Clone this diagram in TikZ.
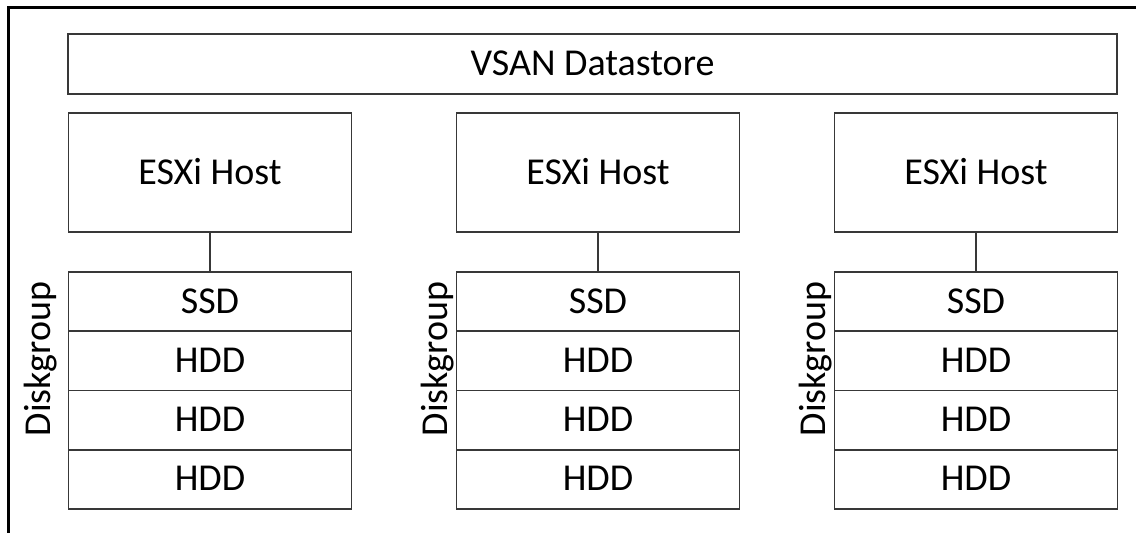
\documentclass[tikz,border=0pt]{standalone}
\usepackage{fontspec}
\setmainfont{Carlito}
\begin{document}
\begin{tikzpicture}[x=1pt,y=-1pt,
  box/.style={draw=black!78,line width=1.6pt,inner sep=0pt,
    text height=23pt,text depth=0pt,font=\fontsize{38}{40}\selectfont},
  hostbox/.style={box,minimum width=283pt,minimum height=119pt},
  diskbox/.style={box,minimum width=283pt,minimum height=59.25pt},
  glabel/.style={rotate=90,anchor=base,inner sep=0pt,font=\fontsize{38}{40}\selectfont},
  link/.style={draw=black!78,line width=1.6pt}]
\useasboundingbox (0,0) rectangle (1136,533);
\draw[line width=3pt] (8.5,533) -- (8.5,7.5) -- (1136,7.5);
\node[box,minimum width=1049pt,minimum height=60pt] (ds) at (592.5,64) {VSAN Datastore};
\foreach \i/\x/\gx in {1/210/50,2/598/447,3/976/825}{
  \node[hostbox] (h\i) at (\x,172.5) {ESXi Host};
  \node[diskbox] (s\i) at (\x,301.6) {SSD};
  \node[diskbox] (da\i) at (\x,360.9) {HDD};
  \node[diskbox] (db\i) at (\x,420.1) {HDD};
  \node[diskbox] (dc\i) at (\x,479.4) {HDD};
  \draw[link] (h\i.south) -- (s\i.north);
  \node[glabel] (g\i) at (\gx,359) {Diskgroup};
}
\end{tikzpicture}
\end{document}
